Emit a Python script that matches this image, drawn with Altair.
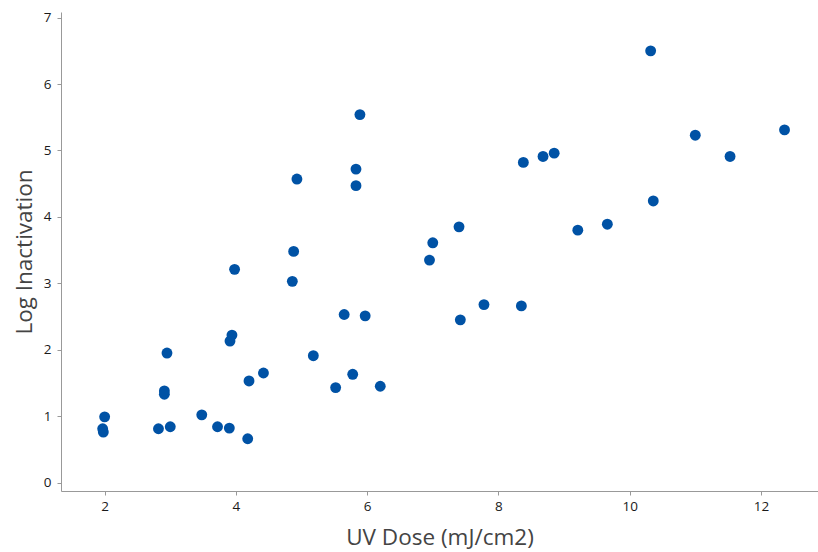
import altair as alt
import pandas as pd

uv_dose = [2.00, 1.97, 1.98, 2.95, 2.91, 2.91, 2.82, 3.00, 3.48, 3.72, 3.90, 4.18,
           3.94, 3.91, 3.98, 4.20, 4.42, 4.86, 4.88, 4.93, 5.18, 5.52, 5.65, 5.78,
           5.97, 6.20, 5.83, 5.83, 5.89, 6.95, 7.00, 7.40, 8.38, 8.68, 8.85, 9.21,
           9.66, 10.36, 10.32, 11.00, 11.53, 12.36, 7.42, 7.78, 8.35]
log_inact = [0.99, 0.81, 0.76, 1.95, 1.38, 1.33, 0.81, 0.84, 1.02, 0.84, 0.82, 0.66,
             2.22, 2.13, 3.21, 1.53, 1.65, 3.03, 3.48, 4.57, 1.91, 1.43, 2.53, 1.63,
             2.51, 1.45, 4.72, 4.47, 5.54, 3.35, 3.61, 3.85, 4.82, 4.91, 4.96, 3.80,
             3.89, 4.24, 6.50, 5.23, 4.91, 5.31, 2.45, 2.68, 2.66]
x_ticks = [2, 4, 6, 8, 10, 12]
y_ticks = [0, 1, 2, 3, 4, 5, 6, 7]

df = pd.DataFrame({"UV Dose": uv_dose, "Log Inactivation": log_inact})

font = "Open Sans"

chart = alt.Chart(df).mark_circle(size=118, color="#0052A5", opacity=1).encode(
    x=alt.X("UV Dose:Q",
            scale=alt.Scale(domain=[1.335, 12.87], nice=False, zero=False),
            axis=alt.Axis(title="UV Dose (mJ/cm2)", values=x_ticks, grid=False,
                          domainColor="#999999", tickColor="#999999", tickSize=4,
                          labelFontSize=13.5, labelColor="#1a1a1a", labelFont=font,
                          labelPadding=4, titleFont=font, titleFontSize=22.5,
                          titleFontWeight="normal", titleColor="#444444",
                          titlePadding=14)),
    y=alt.Y("Log Inactivation:Q",
            scale=alt.Scale(domain=[-0.127, 7.085], nice=False, zero=False),
            axis=alt.Axis(title="Log Inactivation", values=y_ticks, grid=False,
                          domainColor="#999999", tickColor="#999999", tickSize=4,
                          labelFontSize=13.5, labelColor="#1a1a1a", labelFont=font,
                          labelPadding=6, titleFont=font, titleFontSize=22.5,
                          titleFontWeight="normal", titleColor="#444444",
                          titlePadding=7)),
).properties(
    width=757, height=479,
    autosize=alt.AutoSizeParams(type="none"),
    padding={"left": 61, "top": 12, "right": 0, "bottom": 61},
).configure_view(stroke=None)

chart.save("out.html", embed_options={"renderer": "svg", "actions": False})
